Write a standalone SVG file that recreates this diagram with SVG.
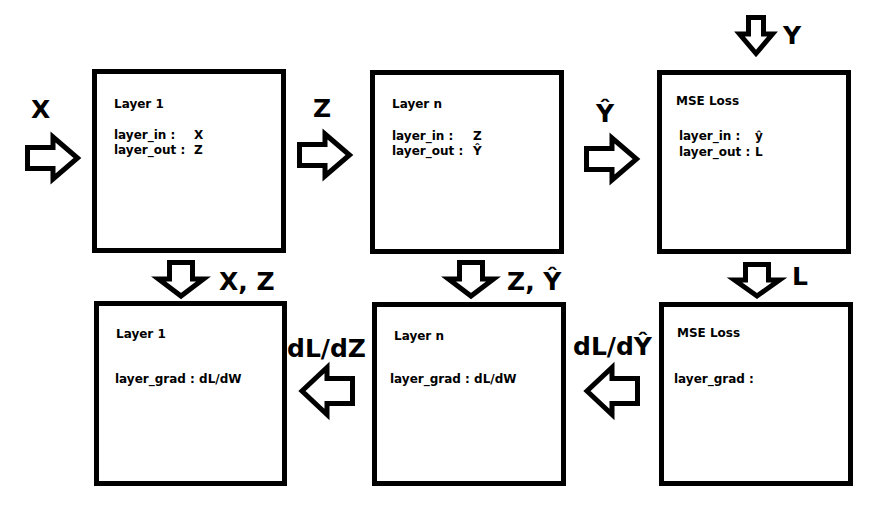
<svg xmlns="http://www.w3.org/2000/svg" width="889" height="513" viewBox="0 0 889 513">
<style>
.box{fill:#fff;stroke:#000;stroke-width:5}
.arr{fill:#fff;stroke:#000;stroke-width:5;stroke-linejoin:miter;stroke-miterlimit:10}
.big{font-family:"DejaVu Sans",Verdana,sans-serif;font-weight:bold;font-size:25px;fill:#000}
.sm{font-family:"DejaVu Sans",Verdana,sans-serif;font-weight:bold;font-size:12px;fill:#000}
</style>
<rect width="889" height="513" fill="#fff"/>
<g id="connectors">
<path class="arr" d="M27.5,147.5 H53 V137 L77.5,158 L53,179 V168.5 H27.5 Z"/>
<path class="arr" d="M299.5,144.5 H325 V134 L349.5,155 L325,176 V165.5 H299.5 Z"/>
<path class="arr" d="M586.5,148.5 H612 V138 L636.5,159 L612,180 V169.5 H586.5 Z"/>
<path class="arr" d="M748.5,17.5 V34 H739.5 L756,53.5 L772.5,34 H763.5 V17.5 Z"/>
<path class="arr" d="M169.5,262.5 V279 H158.5 L181,296 L203.5,279 H192.5 V262.5 Z"/>
<path class="arr" d="M459.5,262.5 V279 H448.5 L471,296 L493.5,279 H482.5 V262.5 Z"/>
<path class="arr" d="M745.5,264.5 V280 H734.5 L757,296 L779.5,280 H768.5 V264.5 Z"/>
<path class="arr" d="M352.5,378.5 H327 V367.5 L302,391 L327,414.5 V403.5 H352.5 Z"/>
<path class="arr" d="M637.5,378.5 H612 V367.5 L587,391 L612,414.5 V403.5 H637.5 Z"/>
<text class="big" x="31" y="118">X</text>
<text class="big" x="313" y="117">Z</text>
<text class="big" x="596" y="122">Ŷ</text>
<text class="big" x="783" y="44">Y</text>
<text class="big" x="219" y="290">X, Z</text>
<text class="big" x="507" y="290">Z, Ŷ</text>
<text class="big" x="792" y="285">L</text>
<text class="big" x="287" y="357">dL/dZ</text>
<text class="big" x="573" y="355">dL/dŶ</text>
</g>
<g id="fwd-layer1">
<rect class="box" x="94.5" y="71.5" width="189" height="179"/>
<text class="sm" x="114" y="108">Layer 1</text>
<text class="sm" x="114" y="139">layer_in :</text>
<text class="sm" x="194" y="139">X</text>
<text class="sm" x="114" y="154">layer_out :</text>
<text class="sm" x="194" y="154">Z</text>
</g>
<g id="fwd-layern">
<rect class="box" x="372.5" y="72.5" width="189" height="179"/>
<text class="sm" x="392" y="108">Layer n</text>
<text class="sm" x="392" y="140">layer_in :</text>
<text class="sm" x="473" y="140">Z</text>
<text class="sm" x="392" y="155">layer_out :</text>
<text class="sm" x="473" y="155">Ŷ</text>
</g>
<g id="fwd-mse">
<rect class="box" x="659.5" y="72.5" width="189" height="179"/>
<text class="sm" x="676" y="105">MSE Loss</text>
<text class="sm" x="679" y="140">layer_in :</text>
<text class="sm" x="755" y="140">ŷ</text>
<text class="sm" x="679" y="156">layer_out :</text>
<text class="sm" x="755" y="156">L</text>
</g>
<g id="bwd-layer1">
<rect class="box" x="96.5" y="303.5" width="188" height="180"/>
<text class="sm" x="116" y="338">Layer 1</text>
<text class="sm" x="115" y="383">layer_grad : dL/dW</text>
</g>
<g id="bwd-layern">
<rect class="box" x="374.5" y="304.5" width="189" height="179"/>
<text class="sm" x="394" y="340">Layer n</text>
<text class="sm" x="390" y="383">layer_grad : dL/dW</text>
</g>
<g id="bwd-mse">
<rect class="box" x="661.5" y="304.5" width="189" height="179"/>
<text class="sm" x="677" y="337">MSE Loss</text>
<text class="sm" x="674" y="383">layer_grad :</text>
</g>
</svg>
